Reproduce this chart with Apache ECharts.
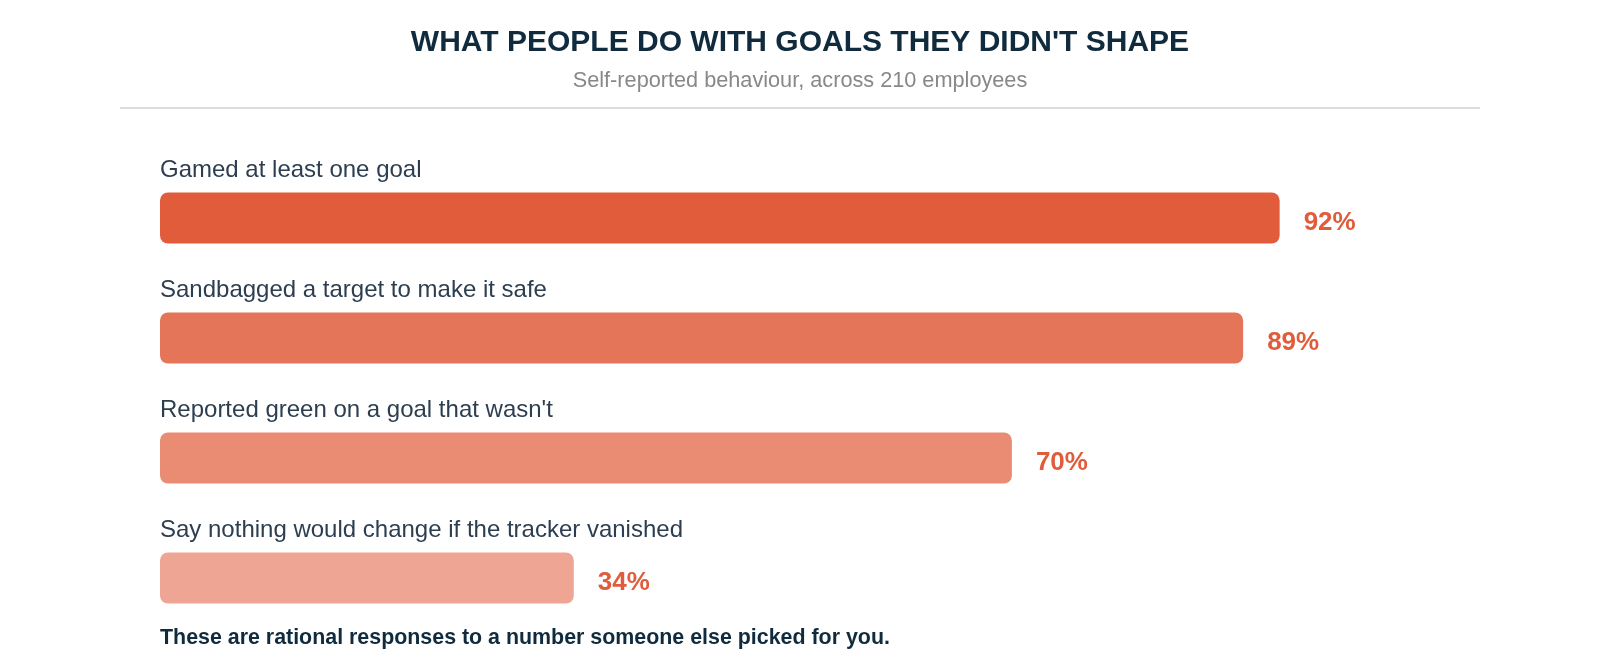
<!DOCTYPE html>
<html>
<head>
<meta charset="utf-8">
<script src="https://cdn.jsdelivr.net/npm/echarts@6/dist/echarts.min.js"></script>
<style>
html,body{margin:0;padding:0;background:#fff;}
#chart{width:1600px;height:660px;}
</style>
</head>
<body>
<div id="chart"></div>
<script>
const categories = [
  "Gamed at least one goal",
  "Sandbagged a target to make it safe",
  "Reported green on a goal that wasn't",
  "Say nothing would change if the tracker vanished"
];
const values = [92, 89, 70, 34];
const barColors = ["#E05C3A", "#E57558", "#E98C73", "#EEA593"];
const titleText = "WHAT PEOPLE DO WITH GOALS THEY DIDN'T SHAPE";
const subtitleText = "Self-reported behaviour, across 210 employees";
const footnoteText = "These are rational responses to a number someone else picked for you.";

const FONT = "'Liberation Sans', Arial, sans-serif";
const chart = echarts.init(document.getElementById('chart'));

chart.setOption({
  backgroundColor: '#ffffff',
  animation: false,
  title: [
    { text: titleText, left: 'center', top: 28, padding: 0,
      textStyle: { fontFamily: FONT, fontSize: 30, fontWeight: 'bold', color: '#0F2B3D' } },
    { text: subtitleText, left: 'center', top: 70, padding: 0,
      textStyle: { fontFamily: FONT, fontSize: 21.7, fontWeight: 'normal', color: '#888888' } },
    { text: footnoteText, left: 160, top: 628, padding: 0,
      textStyle: { fontFamily: FONT, fontSize: 21.4, fontWeight: 'bold', color: '#0F2B3D' } }
  ],
  graphic: [
    { type: 'line', shape: { x1: 120, y1: 108, x2: 1480, y2: 108 },
      style: { stroke: '#dddddd', lineWidth: 2 }, silent: true }
  ],
  grid: { left: 160, right: 223, top: 158, bottom: 22, containLabel: false },
  xAxis: { type: 'value', min: 0, max: 100, show: false },
  yAxis: { type: 'category', data: categories, inverse: true, show: false },
  series: [
    {
      type: 'bar',
      barWidth: 51,
      data: values.map((v, i) => ({ value: v, itemStyle: { color: barColors[i] } })),
      itemStyle: { borderRadius: 8 },
      label: {
        show: true, position: 'right', distance: 24, offset: [0, 5],
        formatter: p => p.value + '%',
        fontFamily: FONT, fontSize: 26, fontWeight: 'bold', color: '#E05C3A'
      },
      z: 3
    },
    {
      type: 'bar',
      barWidth: 51,
      barGap: '-100%',
      silent: true,
      data: values.map((v, i) => ({ value: v, name: categories[i] })),
      itemStyle: { color: 'rgba(0,0,0,0)' },
      label: {
        show: true, position: [0, -22], align: 'left', verticalAlign: 'middle',
        formatter: p => categories[p.dataIndex],
        fontFamily: FONT, fontSize: 24, color: '#2C3E50'
      },
      z: 2
    }
  ]
});
</script>
</body>
</html>
